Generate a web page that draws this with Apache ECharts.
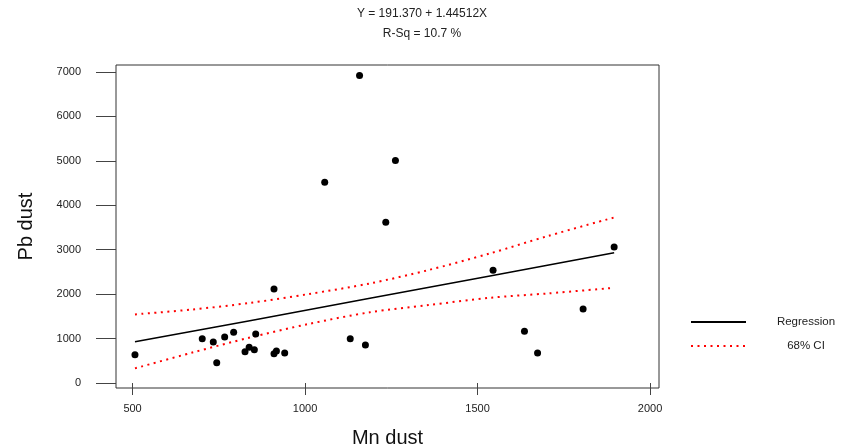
<!DOCTYPE html>
<html>
<head>
<meta charset="utf-8">
<script src="https://cdn.jsdelivr.net/npm/echarts@6/dist/echarts.min.js"></script>
<style>html,body{margin:0;padding:0;background:#fff;}#chart{width:844px;height:448px;}</style>
</head>
<body>
<div id="chart"></div>
<script>
// Scatter data (Mn dust vs Pb dust)
const mnDust = [507, 702, 734, 744, 767, 793, 826, 838, 853, 857, 910, 910, 917, 941, 1057, 1131, 1158, 1175, 1234, 1262, 1545, 1636, 1674, 1806, 1896];
const pbDust = [637, 997, 923, 457, 1035, 1141, 705, 803, 750, 1103, 2116, 660, 720, 675, 4517, 997, 6917, 855, 3617, 5003, 2536, 1163, 675, 1666, 3061];

// Regression line
const regX = [507, 840, 1188, 1536, 1896];
const regY = [930, 1403, 1906, 2408, 2931];

// 68% CI bands
const ciX = [507, 671, 840, 1009, 1188, 1357, 1536, 1705, 1896];
const ciUpper = [1544, 1652, 1802, 2000, 2240, 2540, 2915, 3310, 3724];
const ciLower = [330, 681, 1023, 1326, 1592, 1753, 1917, 2016, 2142];

// Tick labels
const xTicks = [500, 1000, 1500, 2000];
const yTicks = [0, 1000, 2000, 3000, 4000, 5000, 6000, 7000];

const titleText = 'Y = 191.370 + 1.44512X';
const subText = 'R-Sq = 10.7 %';

const FONT = "'Liberation Sans', Arial, sans-serif";
const zip = (a, b) => a.map((v, i) => [v, b[i]]);

const chart = echarts.init(document.getElementById('chart'), null, {renderer: 'canvas'});
chart.setOption({
  animation: false,
  backgroundColor: '#ffffff',
  textStyle: {fontFamily: FONT},
  title: {
    text: titleText,
    subtext: subText,
    left: 'center',
    top: 6,
    padding: 0,
    itemGap: 4,
    textStyle: {fontSize: 12, fontWeight: 'normal', color: '#222', fontFamily: FONT, lineHeight: 16},
    subtextStyle: {fontSize: 12, color: '#222', fontFamily: FONT, lineHeight: 16}
  },
  legend: {
    orient: 'vertical',
    left: 690,
    top: 316,
    padding: 0,
    itemWidth: 55,
    itemHeight: 14,
    itemGap: 12,
    data: ['Regression', '68% CI'],
    itemStyle: {opacity: 0},
    formatter: '{a|{name}}',
    textStyle: {
      fontFamily: FONT, fontSize: 11.5, color: '#222',
      rich: {a: {width: 110, align: 'center', fontSize: 11.5, fontFamily: FONT, color: '#222'}}
    }
  },
  grid: {
    left: 116, right: 185, top: 65, bottom: 60,
    containLabel: false,
    outerBoundsMode: 'none',
    show: true, borderColor: '#333', borderWidth: 1, backgroundColor: 'transparent'
  },
  xAxis: {
    type: 'value',
    min: 452, max: 2026,
    name: 'Mn dust',
    nameLocation: 'middle',
    nameGap: 40,
    nameTextStyle: {fontSize: 20, color: '#111', fontFamily: FONT},
    splitLine: {show: false},
    axisLine: {show: false},
    axisTick: {show: true, inside: false, length: 12, customValues: xTicks, lineStyle: {color: '#444'}},
    axisLabel: {show: true, margin: 15, fontSize: 11, color: '#222', fontFamily: FONT, customValues: xTicks,
      formatter: v => String(v)}
  },
  yAxis: {
    type: 'value',
    min: -112, max: 7154,
    name: 'Pb dust',
    nameLocation: 'middle',
    nameGap: 80,
    nameRotate: 90,
    nameTextStyle: {fontSize: 20, color: '#111', fontFamily: FONT},
    splitLine: {show: false},
    axisLine: {show: false},
    axisTick: {show: true, inside: false, length: 20, customValues: yTicks, lineStyle: {color: '#444'}},
    axisLabel: {show: true, margin: 35, fontSize: 11, color: '#222', fontFamily: FONT, customValues: yTicks,
      formatter: v => String(v)}
  },
  series: [
    {
      name: 'data', type: 'scatter',
      data: zip(mnDust, pbDust),
      symbol: 'circle', symbolSize: 7,
      itemStyle: {color: '#000', opacity: 1},
      z: 5
    },
    {
      name: 'Regression', type: 'line',
      data: zip(regX, regY),
      symbol: 'none',
      lineStyle: {color: '#000', width: 1.5},
      itemStyle: {color: '#000'},
      z: 3
    },
    {
      name: '68% CI', type: 'line',
      data: zip(ciX, ciUpper),
      symbol: 'none', smooth: 0.3,
      lineStyle: {color: '#ff0000', width: 2, type: [2, 4.5]},
      itemStyle: {color: '#ff0000'},
      z: 2
    },
    {
      name: '68% CI', type: 'line',
      data: zip(ciX, ciLower),
      symbol: 'none', smooth: 0.3,
      lineStyle: {color: '#ff0000', width: 2, type: [2, 4.5]},
      itemStyle: {color: '#ff0000'},
      z: 2
    }
  ]
});
</script>
</body>
</html>
